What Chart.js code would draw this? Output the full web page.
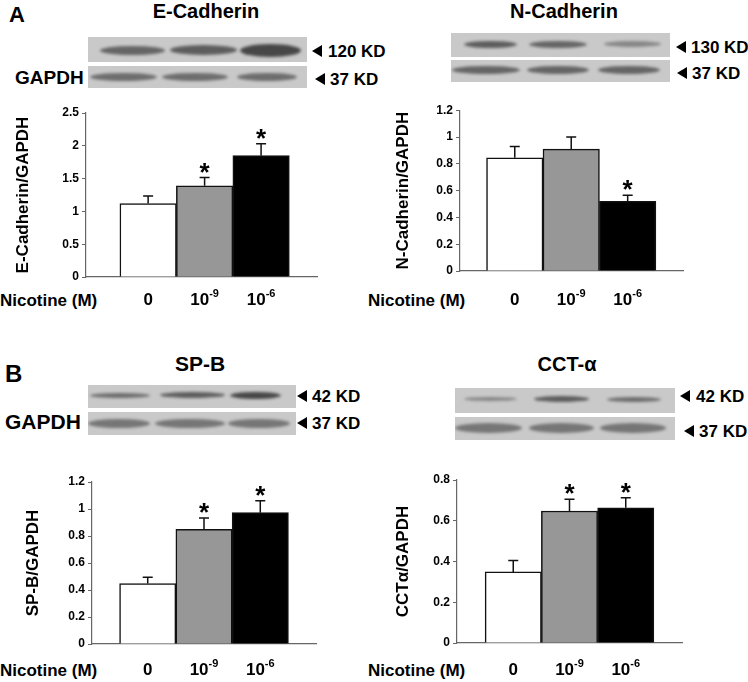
<!DOCTYPE html>
<html>
<head>
<meta charset="utf-8">
<script src="https://cdn.jsdelivr.net/npm/chart.js@4.4.0/dist/chart.umd.min.js"></script>
<style>
body { margin: 0; background: #fff; }
#fig { position: relative; width: 748px; height: 682px; overflow: hidden; font-family: 'Liberation Sans', Arial, sans-serif; color: #000; }
.t { position: absolute; white-space: nowrap; font-weight: bold; line-height: 1; }
.tri { position: absolute; width: 0; height: 0; border-top: 6px solid transparent; border-bottom: 6px solid transparent; border-right: 10px solid #000; }
canvas { position: absolute; }
.blot { position: absolute; background: #c9c9c9; overflow: hidden; }
.band { position: absolute; border-radius: 50%; filter: blur(1.6px); }
</style>
</head>
<body>
<div id="fig"></div>
<script>
// x categories (nicotine dose, M)
var doseBase = ['0', '10', '10'];
var doseExp = ['', '-9', '-6'];

// densitometry, ratio to GAPDH (mean, SE, significance)
var eCadherin = [1.12, 1.39, 1.85];
var eCadherinErr = [0.115, 0.125, 0.18];
var eCadherinSig = [false, true, true];

var nCadherin = [0.845, 0.91, 0.52];
var nCadherinErr = [0.085, 0.09, 0.046];
var nCadherinSig = [false, false, true];

var spB = [0.448, 0.85, 0.973];
var spBErr = [0.047, 0.084, 0.089];
var spBSig = [false, true, true];

var cctA = [0.349, 0.648, 0.664];
var cctAErr = [0.056, 0.057, 0.049];
var cctASig = [false, true, true];

var barFill = ['#ffffff', '#979797', '#000000'];
var axisColor = '#666';
var fontFam = "'Liberation Sans', Arial, sans-serif";

Chart.defaults.font.family = fontFam;
Chart.defaults.color = '#000';

var fig = document.getElementById('fig');

function txt(s, x, cy, fs, center) {
  var d = document.createElement('div');
  d.className = 't';
  d.textContent = s;
  d.style.fontSize = fs + 'px';
  d.style.left = x + 'px';
  d.style.top = (cy - fs * 0.49) + 'px';
  if (center) d.style.transform = 'translateX(-50%)';
  fig.appendChild(d);
}

function kd(s, triX, textX, cy) {
  var t = document.createElement('div');
  t.className = 'tri';
  t.style.left = triX + 'px';
  t.style.top = (cy - 6) + 'px';
  fig.appendChild(t);
  txt(s, textX, cy, 17);
}

function blot(x, y, w, h, bands) {
  var b = document.createElement('div');
  b.className = 'blot';
  b.style.left = x + 'px'; b.style.top = y + 'px';
  b.style.width = w + 'px'; b.style.height = h + 'px';
  fig.appendChild(b);
  bands.forEach(function (bd) {
    var e = document.createElement('div');
    e.className = 'band';
    e.style.left = (bd[0] - x) + 'px';
    e.style.top = (bd[2] - bd[3] / 2 - y) + 'px';
    e.style.width = (bd[1] - bd[0]) + 'px';
    e.style.height = bd[3] + 'px';
    e.style.background = 'rgba(35,35,35,' + bd[4] + ')';
    b.appendChild(e);
  });
}

// panel labels and blots
txt('A', 9, 15, 22);
txt('E-Cadherin', 206, 11, 20, true);
txt('N-Cadherin', 564, 11, 20, true);
blot(88, 37, 219, 25, [[100, 165, 50, 9, 0.6], [170, 237, 50, 10, 0.65], [240, 301, 50, 13, 0.78]]);
blot(88, 66, 219, 22, [[90, 157, 77, 8, 0.55], [162, 228, 77, 8, 0.55], [237, 297, 77, 8, 0.55]]);
txt('GAPDH', 15, 77, 19);
kd('120 KD', 312, 328, 51);
kd('37 KD', 315, 330, 79);

blot(451, 33, 219, 24, [[464, 517, 44, 7, 0.65], [529, 587, 44, 7, 0.6], [604, 661, 44, 6, 0.4]]);
blot(451, 60, 219, 22, [[452, 520, 70, 8, 0.6], [527, 589, 70, 8, 0.6], [598, 660, 70, 8, 0.6]]);
kd('130 KD', 676, 691, 47);
kd('37 KD', 677, 692, 73);

txt('B', 5, 374, 24);
txt('SP-B', 200, 363, 21, true);
txt('CCT-\u03b1', 567, 364, 20, true);
blot(88, 385, 208, 23, [[90, 150, 395, 5, 0.55], [160, 225, 395, 6, 0.65], [230, 281, 395, 7, 0.78]]);
blot(88, 412, 208, 23, [[88, 150, 423, 9, 0.5], [155, 225, 423, 9, 0.5], [228, 290, 423, 9, 0.5]]);
txt('GAPDH', 5, 421, 21);
kd('42 KD', 297, 312, 396);
kd('37 KD', 297, 312, 423);

blot(455, 388, 220, 25, [[464, 517, 399, 4, 0.4], [534, 589, 399, 6, 0.65], [607, 661, 399, 5, 0.55]]);
blot(455, 417, 220, 23, [[455, 522, 428, 10, 0.5], [529, 594, 428, 10, 0.5], [600, 666, 428, 10, 0.5]]);
kd('42 KD', 680, 696, 396);
kd('37 KD', 684, 699, 431);

txt('Nicotine (M)', 0, 300, 17);
txt('Nicotine (M)', 368, 300, 17);
txt('Nicotine (M)', 0, 670, 17);
txt('Nicotine (M)', 368, 670, 17);

function makeChart(cfg) {
  var c = document.createElement('canvas');
  c.width = cfg.w; c.height = cfg.h;
  c.style.left = cfg.left + 'px';
  c.style.top = cfg.top + 'px';
  fig.appendChild(c);

  var marks = {
    id: 'marks',
    afterDraw: function (chart) {
      var ctx = chart.ctx, ys = chart.scales.y, xs = chart.scales.x;
      var meta = chart.getDatasetMeta(0);
      ctx.save();
      ctx.strokeStyle = '#111';
      ctx.lineWidth = 1.5;
      meta.data.forEach(function (bar, i) {
        var yt = ys.getPixelForValue(cfg.values[i] + cfg.errors[i]);
        ctx.beginPath();
        ctx.moveTo(bar.x, bar.y);
        ctx.lineTo(bar.x, yt);
        ctx.moveTo(bar.x - 5, yt);
        ctx.lineTo(bar.x + 5, yt);
        ctx.stroke();
        ctx.fillStyle = '#000';
        if (cfg.sig[i]) {
          ctx.font = 'bold 26px ' + fontFam;
          ctx.textAlign = 'center';
          ctx.textBaseline = 'alphabetic';
          ctx.fillText('*', bar.x, yt + 3);
        }
        // dose label with superscript exponent
        var cx = xs.getPixelForValue(i);
        ctx.textAlign = 'left';
        ctx.textBaseline = 'middle';
        ctx.font = 'bold 17px ' + fontFam;
        var wb = ctx.measureText(doseBase[i]).width;
        ctx.font = 'bold 11px ' + fontFam;
        var we = doseExp[i] ? ctx.measureText(doseExp[i]).width : 0;
        var x0 = cx - (wb + we) / 2;
        ctx.font = 'bold 17px ' + fontFam;
        ctx.fillText(doseBase[i], x0, cfg.labelY);
        if (doseExp[i]) {
          ctx.font = 'bold 11px ' + fontFam;
          ctx.fillText(doseExp[i], x0 + wb, cfg.labelY - 6);
        }
      });
      ctx.restore();
    }
  };

  new Chart(c, {
    type: 'bar',
    data: {
      datasets: [{
        data: cfg.values.map(function (v, i) { return { x: i, y: v }; }),
        backgroundColor: barFill,
        borderColor: '#111',
        borderWidth: 1.5,
        categoryPercentage: 1,
        barPercentage: 1
      }]
    },
    options: {
      responsive: false,
      animation: false,
      events: [],
      layout: { padding: { left: 0, right: cfg.w - cfg.axisRight, top: cfg.areaTop, bottom: 0 } },
      plugins: { legend: { display: false }, tooltip: { enabled: false } },
      scales: {
        x: {
          type: 'linear', offset: false,
          min: cfg.xMin, max: cfg.xMax,
          grid: { display: false },
          border: { display: true, color: axisColor, width: 1.2 },
          ticks: { display: false },
          afterBuildTicks: function (s) { s.ticks = [{ value: 0 }, { value: 1 }, { value: 2 }]; },
          afterFit: function (s) { s.height = cfg.h - cfg.areaBottom; }
        },
        y: {
          min: 0, max: cfg.yMax,
          ticks: {
            stepSize: cfg.yStep, font: { size: 12, weight: 'bold' }, color: '#000', padding: 3,
            callback: function (v) { return String(Math.round(v * 10) / 10); }
          },
          grid: { drawOnChartArea: false, tickLength: 4, color: axisColor },
          border: { color: axisColor, width: 1.2 },
          title: { display: true, text: cfg.yTitle, font: { size: 17, weight: 'bold' }, color: '#000', padding: { top: cfg.titlePad, bottom: 0 } },
          afterFit: function (s) { s.width = cfg.axisLeft; }
        }
      }
    },
    plugins: [marks]
  });
}

makeChart({ left: 0, top: 100, w: 330, h: 215, axisLeft: 86, axisRight: 317, areaTop: 13, areaBottom: 177,
  xMin: -1.1, xMax: 2.99, yMax: 2.5, yStep: 0.5, titlePad: 13, labelY: 200,
  yTitle: 'E-Cadherin/GAPDH', values: eCadherin, errors: eCadherinErr, sig: eCadherinSig });

makeChart({ left: 374, top: 100, w: 374, h: 215, axisLeft: 86, axisRight: 309, areaTop: 7, areaBottom: 171,
  xMin: -0.97, xMax: 2.98, yMax: 1.2, yStep: 0.2, titlePad: 19, labelY: 200,
  yTitle: 'N-Cadherin/GAPDH', values: nCadherin, errors: nCadherinErr, sig: nCadherinSig });

makeChart({ left: 0, top: 460, w: 330, h: 222, axisLeft: 92, axisRight: 316, areaTop: 22, areaBottom: 184,
  xMin: -0.99, xMax: 2.99, yMax: 1.2, yStep: 0.2, titlePad: 23, labelY: 210,
  yTitle: 'SP-B/GAPDH', values: spB, errors: spBErr, sig: spBSig });

makeChart({ left: 374, top: 460, w: 374, h: 222, axisLeft: 83, axisRight: 308, areaTop: 20, areaBottom: 183,
  xMin: -1.0, xMax: 3.0, yMax: 0.8, yStep: 0.2, titlePad: 19, labelY: 210,
  yTitle: 'CCT\u03b1/GAPDH', values: cctA, errors: cctAErr, sig: cctASig });
</script>
</body>
</html>
